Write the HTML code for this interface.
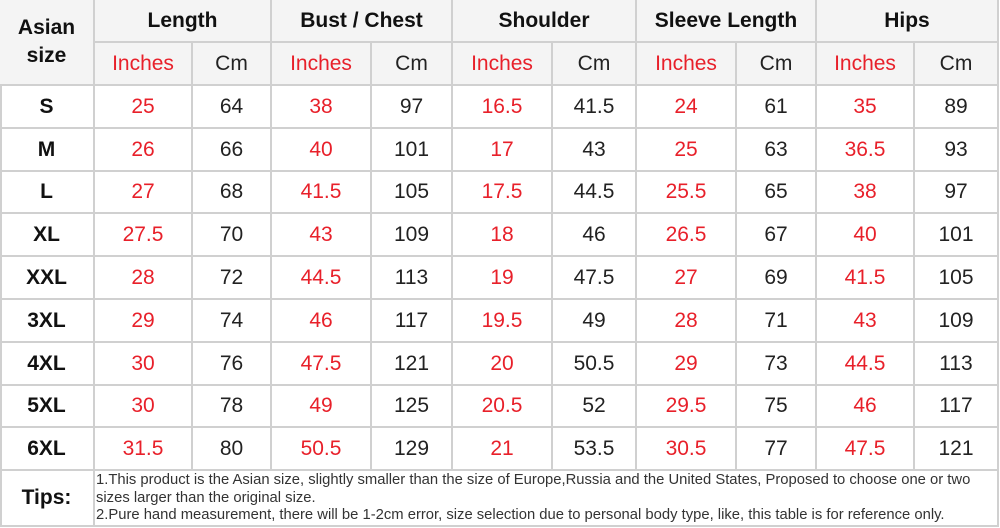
<!DOCTYPE html>
<html><head><style>
body{margin:0;width:1000px;height:528px;background:#fff;position:relative;overflow:hidden;font-family:"Liberation Sans",Arial,sans-serif}
.c{position:absolute;box-sizing:border-box;border-right:2px solid #d0d0d0;border-bottom:2px solid #d0d0d0;display:flex;align-items:center;justify-content:center;font-size:21px;color:#222}
.h{background:#f4f4f4;font-weight:bold;color:#111}
.s{background:#f4f4f4;font-weight:normal}
.r{color:#e8202a}
.b{font-weight:bold;color:#111}
</style></head><body>
<div id="t"></div>
<script>
const X=[0,95,193,272,372,453,553,637,737,817,915,999];
const t=document.getElementById('t');let h='';
function cell(x1,x2,y1,y2,txt,cls){h+=`<div class="c ${cls}" style="left:${x1}px;top:${y1}px;width:${x2-x1}px;height:${y2-y1}px">${txt}</div>`;}
h+=`<div style="position:absolute;left:0;top:0;width:999px;height:527px;border-top:2px solid #d0d0d0;border-left:2px solid #d0d0d0;box-sizing:border-box"></div>`;
cell(0,95,0,86,'<div style="text-align:center;line-height:28px">Asian<br>size</div>','h');
const H=['Length','Bust / Chest','Shoulder','Sleeve Length','Hips'];
for(let i=0;i<5;i++){cell(X[1+2*i],X[3+2*i],0,43,H[i],'h');cell(X[1+2*i],X[2+2*i],43,86,'Inches','s r');cell(X[2+2*i],X[3+2*i],43,86,'Cm','s');}
const D=[['S',25,64,38,97,16.5,41.5,24,61,35,89],['M',26,66,40,101,17,43,25,63,36.5,93],['L',27,68,41.5,105,17.5,44.5,25.5,65,38,97],['XL',27.5,70,43,109,18,46,26.5,67,40,101],['XXL',28,72,44.5,113,19,47.5,27,69,41.5,105],['3XL',29,74,46,117,19.5,49,28,71,43,109],['4XL',30,76,47.5,121,20,50.5,29,73,44.5,113],['5XL',30,78,49,125,20.5,52,29.5,75,46,117],['6XL',31.5,80,50.5,129,21,53.5,30.5,77,47.5,121]];
D.forEach((r,j)=>{const y1=Math.round(86+j*42.8),y2=Math.round(86+(j+1)*42.8);r.forEach((v,i)=>cell(X[i],X[i+1],y1,y2,v,i==0?'b':(i%2==1?'r':'')));});
cell(0,95,471,527,'Tips:','b');
h+=`<div class="c" style="left:95px;top:471px;width:904px;height:56px;display:block;font-size:14.8px;line-height:17.5px;color:#333;padding:1px 0 0 1px">1.This product is the Asian size, slightly smaller than the size of Europe,Russia and the United States, Proposed to choose one or two sizes larger than the original size.<br>2.Pure hand measurement, there will be 1-2cm error, size selection due to personal body type, like, this table is for reference only.</div>`;
t.innerHTML=h;
</script>
</body></html>
